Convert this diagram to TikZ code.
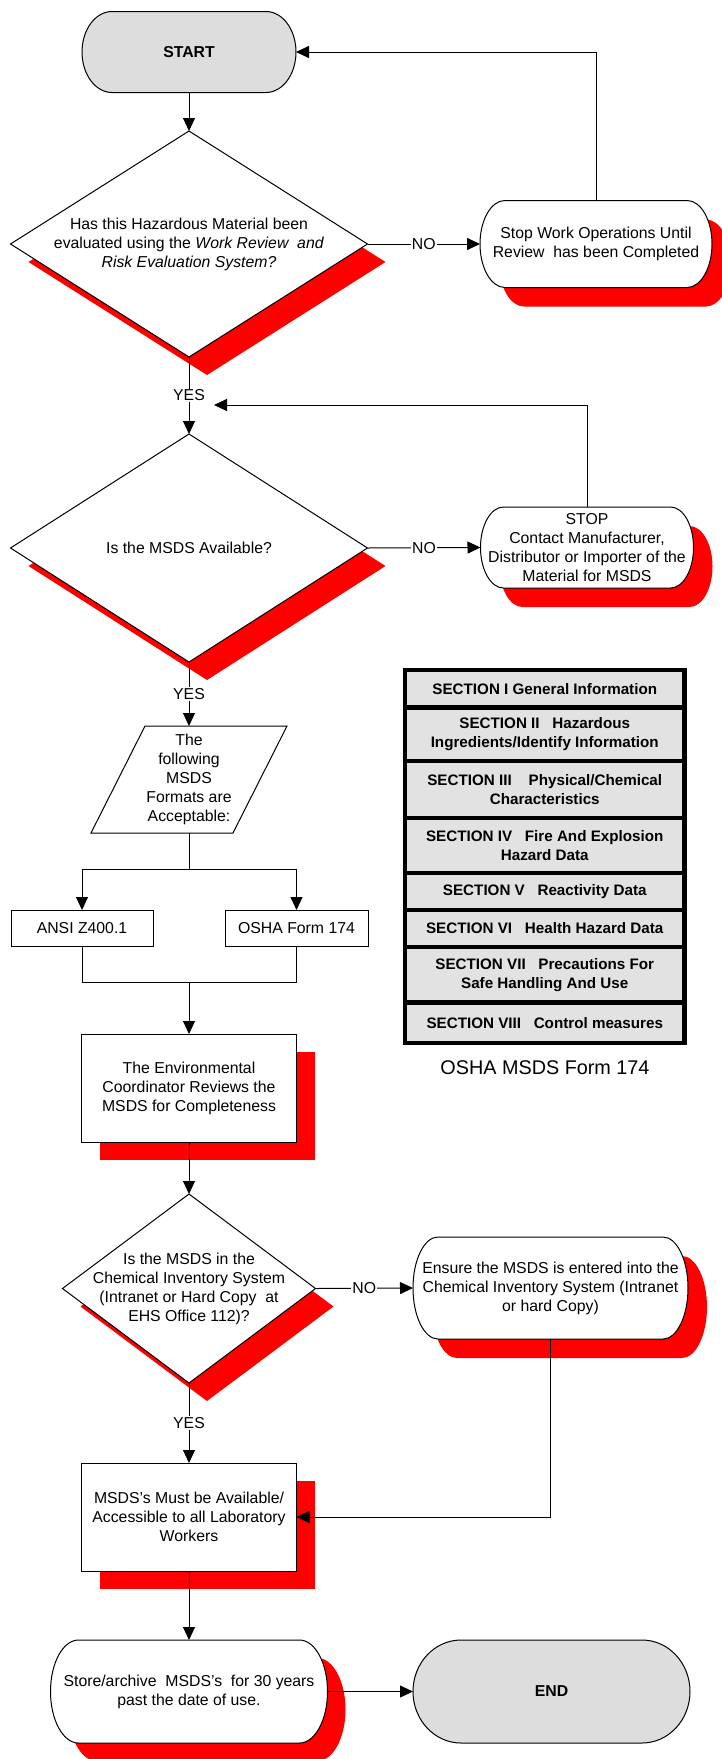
\documentclass[tikz,border=0pt]{standalone}
\usepackage{fontspec}
\setmainfont{Liberation Sans}
\usetikzlibrary{arrows.meta,calc}
\definecolor{shred}{RGB}{255,0,0}
\definecolor{termgray}{RGB}{221,221,221}
\definecolor{rowgray}{RGB}{226,226,226}
\pgfdeclarelayer{shadowlayer}
\pgfdeclarelayer{shapelayer}
\pgfsetlayers{shadowlayer,shapelayer,main}

\newcommand\termoutline[3]{%
  \path[#1] let \p1=(#2.north west), \p2=(#2.south east), \n1={(\y1-\y2)/2} in
    (\x1+#3pt,\y1) -- (\x2-#3pt,\y1)
    arc[start angle=90,end angle=-90,x radius=#3pt,y radius=\n1]
    -- (\x1+#3pt,\y2)
    arc[start angle=270,end angle=90,x radius=#3pt,y radius=\n1] -- cycle;}
\newcommand\diaoutline[2]{\path[#1] (#2.north) -- (#2.east) -- (#2.south) -- (#2.west) -- cycle;}
\newcommand\boxoutline[2]{\path[#1] (#2.south west) rectangle (#2.north east);}

\begin{document}
\begin{tikzpicture}[x=1pt,y=1pt,
  txt/.style={font=\fontsize{15.8}{19}\selectfont, align=center, inner sep=0pt, outer sep=0pt},
  shp/.style 2 args={txt, minimum width=#1, minimum height=#2},
  boldtxt/.style={font=\bfseries\fontsize{15.8}{19}\selectfont},
  outline/.style={draw=black, line width=1pt, fill=white},
  shadowfill/.style={fill=shred, draw=none, transform canvas={shift={(#1pt,-#1pt)}}},
  arr/.style={-{Triangle[length=13pt,width=12pt]}, line width=1pt},
  conn/.style={line width=1pt},
  lbl/.style={font=\fontsize{15.8}{19}\selectfont, fill=white, inner sep=1pt},
  row/.style={draw=black, line width=4.5pt, fill=rowgray, minimum width=279.5pt,
    inner sep=0pt, align=center, font=\bfseries\fontsize{15.2}{19.3}\selectfont},
]
\useasboundingbox (0,0) rectangle (721,-1759);

% ---------- nodes ----------
\node[shp={214pt}{81pt}, boldtxt] (start) at (189,-52) {START};
\node[shp={357pt}{226pt}] (d1) at (189,-244)
  {Has this Hazardous Material been\\evaluated using the \textit{Work Review\ \ and}\\\textit{Risk Evaluation System?}};
\node[shp={232pt}{87pt}] (stop) at (596,-244) {Stop Work Operations Until\\Review\ \ has been Completed};
\node[shp={357pt}{228pt}] (d2) at (189,-548) {Is the MSDS Available?};
\node[shp={213pt}{81pt}] (stop2) at (587,-547.5)
  {STOP\\Contact Manufacturer,\\Distributor or Importer of the\\Material for MSDS};
\node[shp={196pt}{107pt}] (para) at (189,-779.5) {The\\following\\MSDS\\Formats are\\Acceptable:};
\node[shp={142pt}{36pt}] (ansi) at (82,-928) {ANSI Z400.1};
\node[shp={143pt}{36pt}] (osha) at (296.5,-928) {OSHA Form 174};
\node[shp={215pt}{108pt}] (env) at (189,-1088)
  {The Environmental\\Coordinator Reviews the\\MSDS for Completeness};
\node[shp={253pt}{189pt}] (d3) at (189,-1288.5)
  {Is the MSDS in the\\Chemical Inventory System\\(Intranet or Hard Copy\ \ at\\EHS Office 112)?};
\node[shp={275pt}{102pt}] (ensure) at (550.5,-1288)
  {Ensure the MSDS is entered into the\\Chemical Inventory System (Intranet\\or hard Copy)};
\node[shp={215pt}{108pt}] (msds) at (189,-1517)
  {MSDS’s Must be Available/\\Accessible to all Laboratory\\Workers};
\node[shp={277pt}{103pt}] (store) at (189,-1691.5)
  {Store/archive\ \ MSDS’s\ \ for 30 years\\past the date of use.};
\node[shp={277pt}{103pt}, boldtxt] (endnode) at (551.5,-1691.5) {END};

% ---------- OSHA form table ----------
\node[row, minimum height=37.5pt] (s1) at (544.75,-688.75) {SECTION I General Information};
\node[row, minimum height=53.5pt] (s2) at (544.75,-734.25) {SECTION II\ \ \ Hazardous\\Ingredients/Identify Information};
\node[row, minimum height=57pt] (s3) at (544.75,-789.5) {SECTION III\ \ \ \ Physical/Chemical\\Characteristics};
\node[row, minimum height=55pt] (s4) at (544.75,-845.5) {SECTION IV\ \ \ Fire And Explosion\\Hazard Data};
\node[row, minimum height=37pt] (s5) at (544.75,-891.5) {SECTION V\ \ \ Reactivity Data};
\node[row, minimum height=37pt] (s6) at (544.75,-928.5) {SECTION VI\ \ \ Health Hazard Data};
\node[row, minimum height=55.5pt] (s7) at (544.75,-974.75) {SECTION VII\ \ \ Precautions For\\Safe Handling And Use};
\node[row, minimum height=40.5pt] (s8) at (544.75,-1022.75) {SECTION VIII\ \ \ Control measures};
\node[font=\fontsize{19.8}{23}\selectfont, inner sep=0pt] (cap) at (545,-1068) {OSHA MSDS Form 174};

% ---------- shadows ----------
\begin{pgfonlayer}{shadowlayer}
  \termoutline{shadowfill=19}{stop}{25}
  \termoutline{shadowfill=19}{stop2}{23}
  \termoutline{shadowfill=19}{ensure}{25}
  \termoutline{shadowfill=18}{store}{28}
  \diaoutline{shadowfill=18}{d1}
  \diaoutline{shadowfill=18}{d2}
  \diaoutline{shadowfill=18}{d3}
  \boxoutline{shadowfill=18}{env}
  \boxoutline{shadowfill=18}{msds}
\end{pgfonlayer}

% ---------- shapes ----------
\begin{pgfonlayer}{shapelayer}
  \termoutline{outline, fill=termgray}{start}{30}
  \termoutline{outline}{stop}{25}
  \termoutline{outline}{stop2}{23}
  \termoutline{outline}{ensure}{25}
  \termoutline{outline}{store}{28}
  \termoutline{outline, fill=termgray}{endnode}{48}
  \diaoutline{outline}{d1}
  \diaoutline{outline}{d2}
  \diaoutline{outline}{d3}
  \boxoutline{outline}{ansi}
  \boxoutline{outline}{osha}
  \boxoutline{outline}{env}
  \boxoutline{outline}{msds}
  \path[outline] (para.south west) -- ($(para.north west)+(54,0)$) -- (para.north east)
    -- ($(para.south east)+(-54,0)$) -- cycle;
\end{pgfonlayer}

% ---------- connectors ----------
\draw[arr] (start.south) -- (d1.north);
\draw[arr] (d1.east) -- node[lbl]{NO} (stop.west);
\draw[arr] (stop.north) |- (start.east);
\draw[arr] (d1.south) -- node[lbl]{YES} (d2.north);
\coordinate (fb) at (214,-405);
\draw[arr] (stop2.north) |- (fb);
\draw[arr] (d2.east) -- node[lbl]{NO} (stop2.west);
\draw[arr] (d2.south) -- node[lbl]{YES} (para.north);
\coordinate (split) at (189,-869);
\draw[conn] (para.south) -- (split);
\draw[arr] (split) -| (ansi.north);
\draw[arr] (split) -| (osha.north);
\coordinate (join) at (189,-982);
\draw[conn] (ansi.south) |- (join) -| (osha.south);
\draw[arr] (join) -- (env.north);
\draw[arr] (env.south) -- (d3.north);
\draw[arr] (d3.east) -- node[lbl]{NO} (ensure.west);
\draw[arr] (ensure.south) |- (msds.east);
\draw[arr] (d3.south) -- node[lbl]{YES} (msds.north);
\draw[arr] (msds.south) -- (store.north);
\draw[arr] (store.east) -- (endnode.west);
\end{tikzpicture}
\end{document}
